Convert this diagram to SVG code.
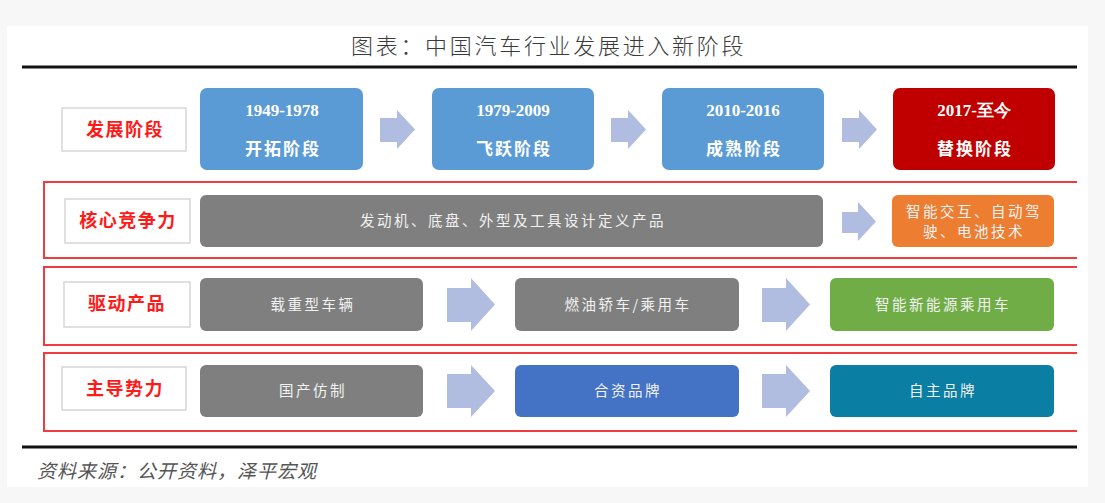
<svg xmlns="http://www.w3.org/2000/svg" width="1105" height="503" viewBox="0 0 1105 503">
<style>
.lbl{fill:#fff;stroke:#d6d6d6;stroke-width:1.5}
.lt{font-family:"Noto Sans CJK SC",sans-serif;font-weight:bold;font-size:18px;fill:#ff1a1a;text-anchor:middle;letter-spacing:1.5px}
.frame{fill:none;stroke:#f23b3f;stroke-width:2}
.arr{fill:#b0bce0}
.bt{font-family:"Noto Sans CJK SC",sans-serif;font-size:14.5px;fill:#f2f2f2;text-anchor:middle;letter-spacing:2.5px}
.yr{font-family:"Liberation Serif",serif;font-weight:bold;font-size:17px;fill:#fff;text-anchor:middle}
.st{font-family:"Noto Sans CJK SC",sans-serif;font-weight:bold;font-size:17px;fill:#fff;text-anchor:middle;letter-spacing:2px}
</style>
<rect x="0" y="0" width="1105" height="503" fill="#f7f7f7"/>
<rect x="7" y="26" width="1081" height="461" fill="#fff"/>
<text x="351" y="54" font-family="'Noto Sans CJK SC',sans-serif" font-size="22" font-weight="300" fill="#3a3a3a" letter-spacing="2.7">图表：中国汽车行业发展进入新阶段</text>
<line x1="22" y1="67" x2="1077" y2="67" stroke="#111" stroke-width="3"/>
<line x1="22" y1="447" x2="1077" y2="447" stroke="#111" stroke-width="3"/>
<text x="37" y="478" font-family="'Noto Sans CJK SC',sans-serif" font-size="19" font-style="italic" fill="#555" letter-spacing="1" transform="skewX(0)">资料来源：公开资料，泽平宏观</text>

<g id="frames">
<path class="frame" d="M1077,182 H44 V258 H1077"/>
<path class="frame" d="M1077,267 H44 V345 H1077"/>
<path class="frame" d="M1077,353 H44 V431 H1077"/>
</g>

<g id="label-stage"><rect class="lbl" x="62" y="108" width="124" height="43"/><text class="lt" x="125" y="136">发展阶段</text></g>
<g id="label-core"><rect class="lbl" x="65" y="199" width="125" height="44"/><text class="lt" x="128" y="227">核心竞争力</text></g>
<g id="label-product"><rect class="lbl" x="64" y="282" width="126" height="45"/><text class="lt" x="127" y="310">驱动产品</text></g>
<g id="label-power"><rect class="lbl" x="62" y="367" width="124" height="43"/><text class="lt" x="125" y="395">主导势力</text></g>

<g id="s1"><rect x="200" y="88" width="163" height="82" rx="7" fill="#5b9bd5"/><text class="yr" x="282" y="116">1949-1978</text><text class="st" x="283" y="155">开拓阶段</text></g>
<g id="s2"><rect x="432" y="88" width="162" height="82" rx="7" fill="#5b9bd5"/><text class="yr" x="513" y="116">1979-2009</text><text class="st" x="514" y="155">飞跃阶段</text></g>
<g id="s3"><rect x="662" y="88" width="162" height="82" rx="7" fill="#5b9bd5"/><text class="yr" x="743" y="116">2010-2016</text><text class="st" x="744" y="155">成熟阶段</text></g>
<g id="s4"><rect x="893" y="88" width="162" height="82" rx="7" fill="#c00000"/><text class="yr" x="974" y="116">2017-至今</text><text class="st" x="975" y="155">替换阶段</text></g>

<g id="core1"><rect x="200" y="195" width="623" height="52" rx="6" fill="#7f7f7f"/><text class="bt" x="513" y="226">发动机、底盘、外型及工具设计定义产品</text></g>
<g id="core2"><rect x="892" y="195" width="162" height="52" rx="6" fill="#ed7d31"/><text class="bt" x="974" y="217">智能交互、自动驾</text><text class="bt" x="974" y="237">驶、电池技术</text></g>

<g id="p1"><rect x="200" y="278" width="223" height="53" rx="6" fill="#7f7f7f"/><text class="bt" x="313" y="310">载重型车辆</text></g>
<g id="p2"><rect x="515" y="278" width="224" height="53" rx="6" fill="#7f7f7f"/><text class="bt" x="628" y="310">燃油轿车/乘用车</text></g>
<g id="p3"><rect x="830" y="278" width="224" height="53" rx="6" fill="#70ad47"/><text class="bt" x="943" y="310">智能新能源乘用车</text></g>

<g id="b1"><rect x="200" y="365" width="223" height="52" rx="6" fill="#7f7f7f"/><text class="bt" x="313" y="396">国产仿制</text></g>
<g id="b2"><rect x="515" y="365" width="224" height="52" rx="6" fill="#4472c4"/><text class="bt" x="628" y="396">合资品牌</text></g>
<g id="b3"><rect x="830" y="365" width="224" height="52" rx="6" fill="#0b7ea3"/><text class="bt" x="943" y="396">自主品牌</text></g>

<g id="connectors">
<polygon class="arr" points="380,118 397,118 397,110 415,129.5 397,149 397,142 380,142"/>
<polygon class="arr" points="611,118 628,118 628,110 646,129.5 628,149 628,142 611,142"/>
<polygon class="arr" points="842,118 859,118 859,110 877,129.5 859,149 859,142 842,142"/>
<polygon class="arr" points="842,212 858,212 858,202 876,221.5 858,241 858,233 842,233"/>
<polygon class="arr" points="447,288 471,288 471,278 495,304.5 471,331 471,322 447,322"/>
<polygon class="arr" points="762,288 786,288 786,278 810,304.5 786,331 786,322 762,322"/>
<polygon class="arr" points="447,374 471,374 471,365 495,391 471,417 471,408 447,408"/>
<polygon class="arr" points="762,374 786,374 786,365 810,391 786,417 786,408 762,408"/>
</g>
</svg>
